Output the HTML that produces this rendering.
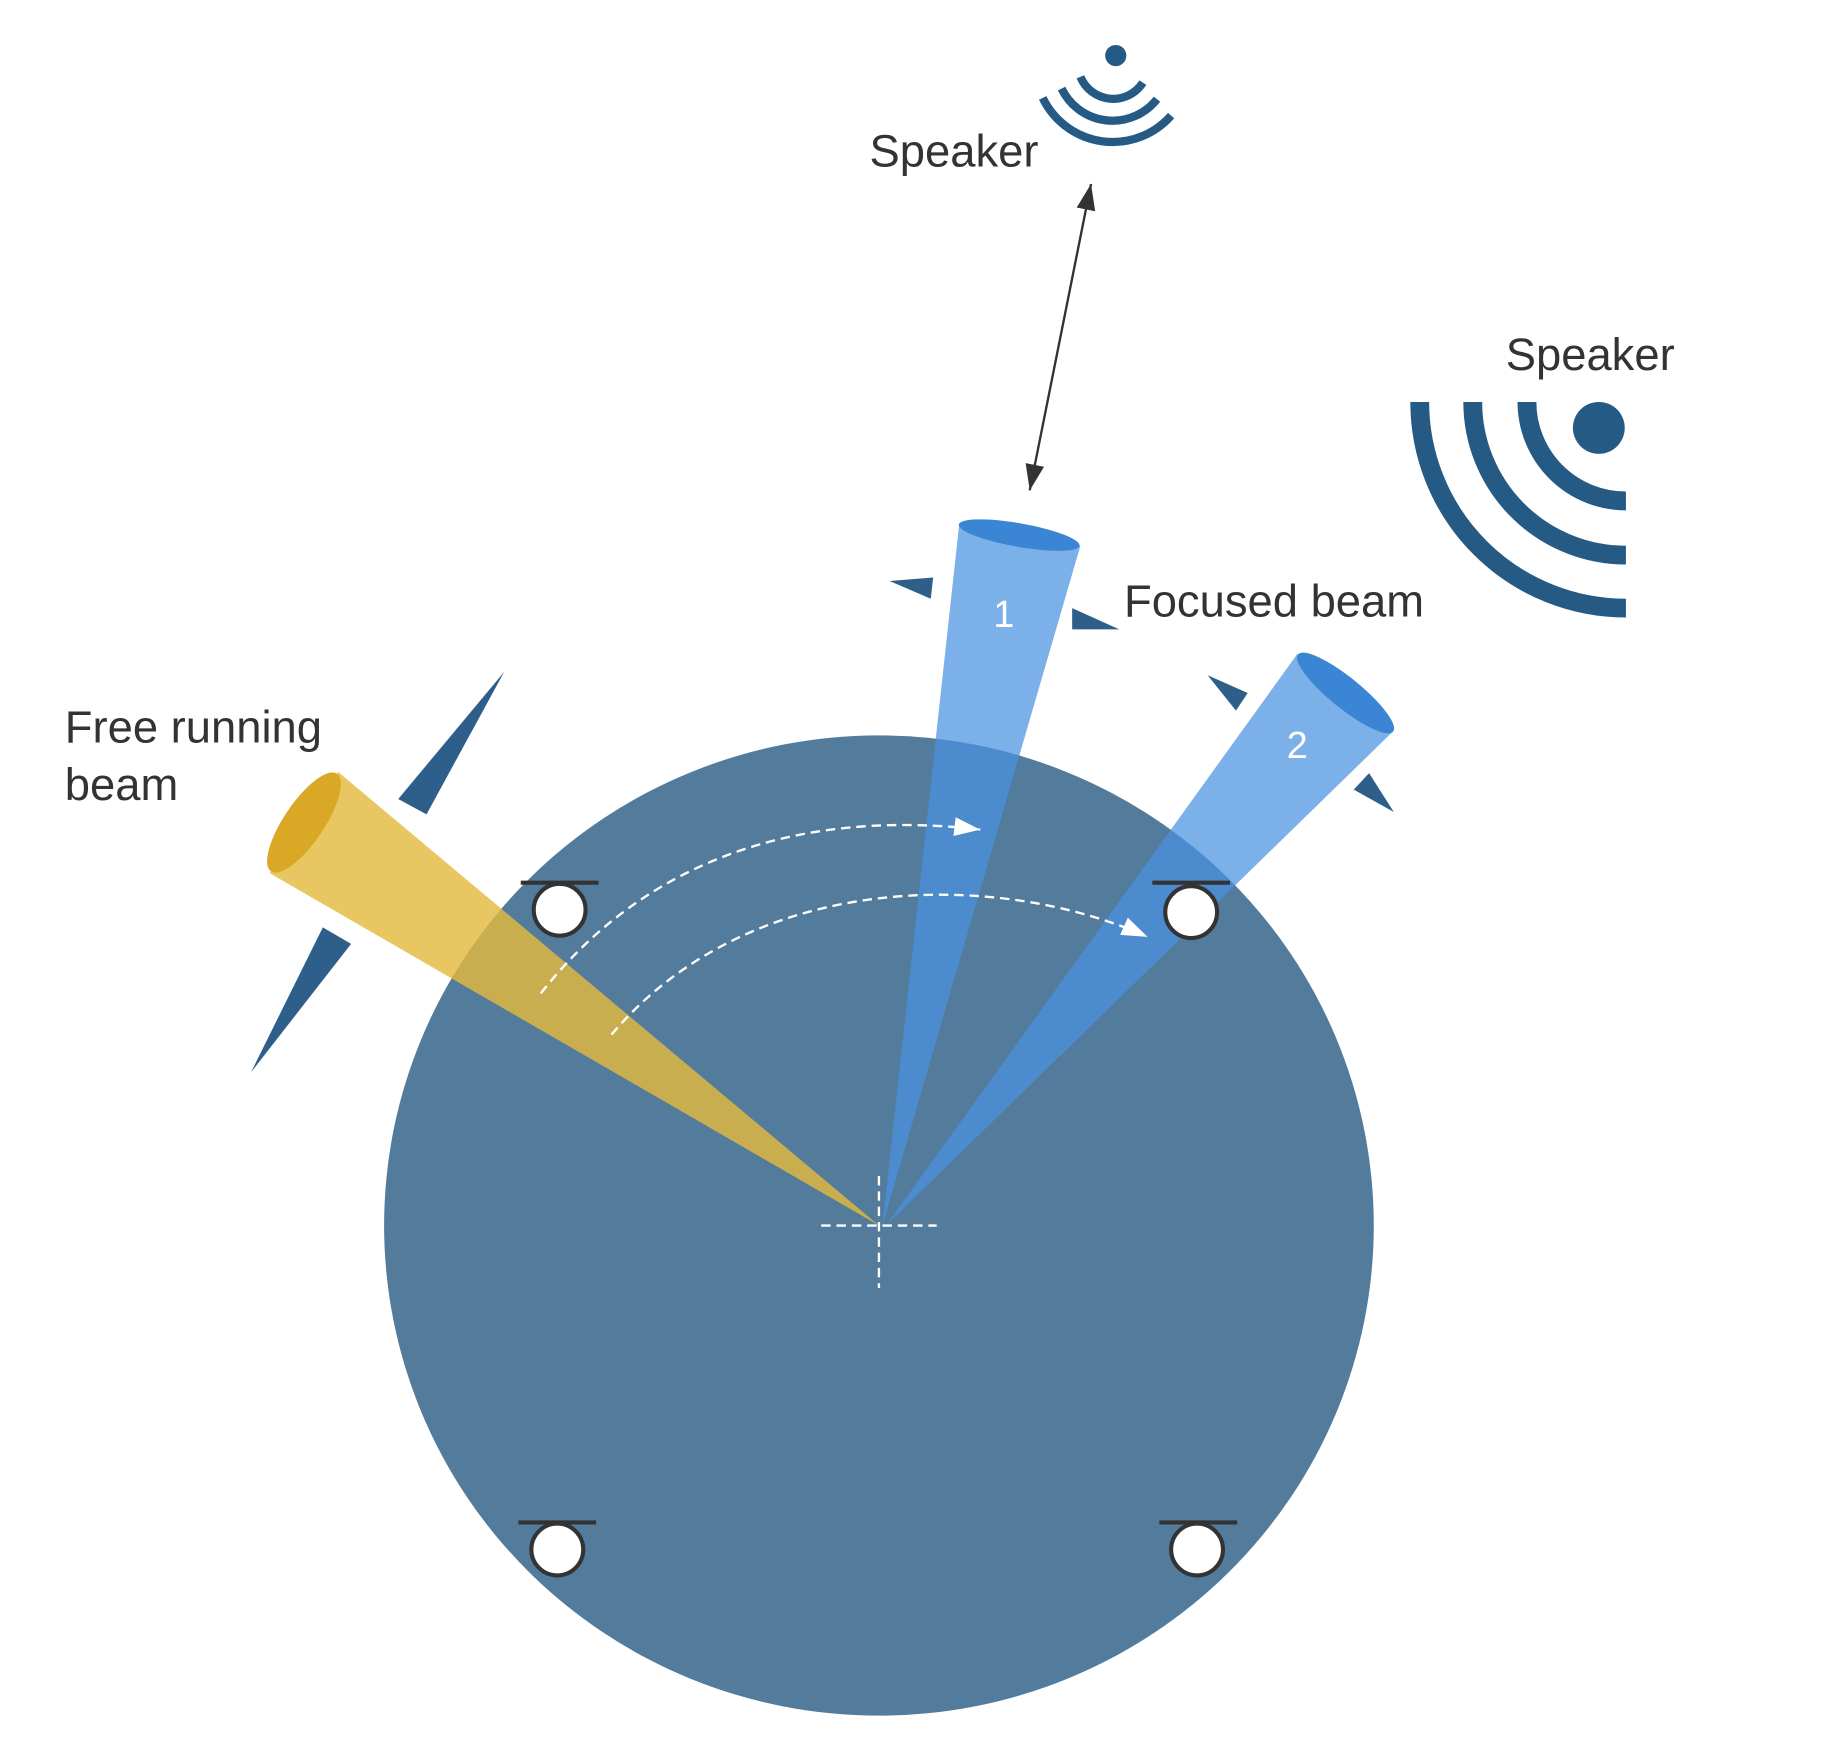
<!DOCTYPE html>
<html><head><meta charset="utf-8"><style>html,body{margin:0;padding:0;background:#fff}svg{display:block}</style></head>
<body>
<svg width="1838" height="1750" viewBox="0 0 1560 1485" xmlns="http://www.w3.org/2000/svg" font-family="Liberation Sans, sans-serif">
<defs>
<marker id="aw" markerWidth="24" markerHeight="20" refX="22" refY="8" orient="auto" markerUnits="userSpaceOnUse"><path d="M0,0 L22,8 L0,16 z" fill="#fff"/></marker>
<marker id="ab" markerWidth="24" markerHeight="20" refX="22" refY="8" orient="auto" markerUnits="userSpaceOnUse"><path d="M0,0 L22,8 L0,16 z" fill="#333"/></marker>
<marker id="ab2" markerWidth="24" markerHeight="20" refX="0" refY="8" orient="auto" markerUnits="userSpaceOnUse"><path d="M22,0 L0,8 L22,16 z" fill="#333"/></marker>
</defs>
<g transform="translate(-3,-2)">
<ellipse cx="749" cy="1042" rx="420" ry="416" fill="#537b9c"/>
<g fill="#2d5f8a">
<polygon points="431,572 341,680 365,693"/>
<polygon points="216,912 277,789 301,803"/>
<polygon points="758,495 795,492 793,510"/>
<polygon points="953,536 913,518 913,536"/>
<polygon points="1028,575 1062,590 1052,605"/>
<polygon points="1186,691 1152,672 1165,658"/>
</g>
<polygon points="749,1042 290,657 232,743" fill="#e3b93f" fill-opacity="0.82"/>
<ellipse cx="261" cy="700" rx="50" ry="17" transform="rotate(-56 261 700)" fill="#d9a825"/>
<polygon points="752,1042 817,448 920,465" fill="#4a92e0" fill-opacity="0.72"/>
<ellipse cx="868" cy="456" rx="52" ry="10" transform="rotate(10 868 456)" fill="#3a86d4"/>
<polygon points="755,1042 1104,557 1186,622" fill="#4a92e0" fill-opacity="0.72"/>
<ellipse cx="1145" cy="590" rx="52" ry="13" transform="rotate(39 1145 590)" fill="#3a86d4"/>
<text x="855" y="534" font-size="32" fill="#fff" text-anchor="middle">1</text>
<text x="1104" y="645" font-size="32" fill="#fff" text-anchor="middle">2</text>
<path d="M462,845 C560,720 700,690 835,706" fill="none" stroke="#fff" stroke-width="2" stroke-dasharray="8,5" marker-end="url(#aw)"/>
<path d="M522,880 C640,740 850,740 977,797" fill="none" stroke="#fff" stroke-width="2" stroke-dasharray="8,5" marker-end="url(#aw)"/>
<path d="M700,1042 H798 M749,1000 V1095" stroke="#fff" stroke-width="2" stroke-dasharray="8,5"/>
<g stroke="#333" stroke-width="3.5" fill="#fff">
<line x1="445" y1="751" x2="511" y2="751"/><circle cx="478" cy="774" r="22"/>
<line x1="981" y1="751" x2="1047" y2="751"/><circle cx="1014" cy="776" r="22"/>
<line x1="443" y1="1294" x2="509" y2="1294"/><circle cx="476" cy="1317" r="22"/>
<line x1="987" y1="1294" x2="1053" y2="1294"/><circle cx="1019" cy="1317" r="22"/>
</g>
<line x1="929" y1="158" x2="877" y2="418" stroke="#333" stroke-width="2" marker-end="url(#ab)" marker-start="url(#ab2)"/>
<g fill="none" stroke="#255a85" stroke-width="7">
<circle cx="950" cy="49" r="9" fill="#255a85" stroke="none"/>
<path d="M920,67 A30,30 0 0 0 973,72"/>
<path d="M904,77 A48,48 0 0 0 985,86"/>
<path d="M888,85 A66,66 0 0 0 997,100"/>
</g>
<g fill="none" stroke="#255a85" stroke-width="16">
<circle cx="1360" cy="365" r="22" fill="#255a85" stroke="none"/>
<path d="M1299,343 A84,84 0 0 0 1383,427"/>
<path d="M1253,343 A130,130 0 0 0 1383,473"/>
<path d="M1208,343 A175,175 0 0 0 1383,518"/>
</g>
<g font-size="38.5" fill="#333">
<text x="741" y="143">Speaker</text>
<text x="1281" y="316">Speaker</text>
<text x="957" y="525">Focused beam</text>
<text x="58" y="632">Free running</text>
<text x="58" y="681">beam</text>
</g>
</g>
</svg>
</body></html>
